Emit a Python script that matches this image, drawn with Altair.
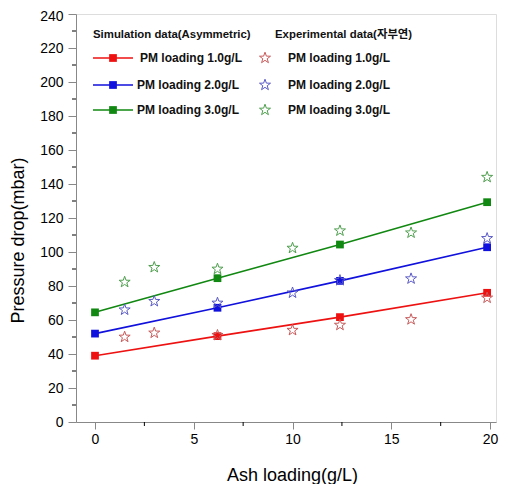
import math
import altair as alt
import pandas as pd

# ---- data ----
sim_x = [0.0, 6.2, 12.4, 19.85]
sim_pm1 = [39.0, 50.5, 61.7, 76.0]
sim_pm2 = [52.0, 67.2, 83.0, 102.8]
sim_pm3 = [64.5, 84.6, 104.4, 129.3]

exp_x = [1.5, 3.0, 6.2, 10.0, 12.4, 16.0, 19.85]
exp_pm1 = [50.0, 52.4, 51.0, 54.0, 57.0, 60.3, 73.0]
exp_pm2 = [66.0, 71.0, 70.0, 76.0, 83.3, 84.3, 108.0]
exp_pm3 = [82.3, 91.0, 90.0, 102.3, 112.5, 111.3, 144.0]

series = ["PM loading 1.0g/L", "PM loading 2.0g/L", "PM loading 3.0g/L"]
x_major = [0, 5, 10, 15, 20]
x_minor = [2.5, 7.5, 12.5, 17.5]
y_major = list(range(0, 241, 20))
y_minor = list(range(10, 240, 20))

line_colors = ["#ee1111", "#1111dd", "#118811"]
star_colors = ["#c85a5a", "#5a5ac8", "#4f9f4f"]

W, H = 420, 408
FONT = "Liberation Sans, Arial, Noto Sans CJK KR, sans-serif"

# star symbol path (unit space)
pts = []
for i in range(10):
    r = 1.0 if i % 2 == 0 else 0.4
    a = -math.pi / 2 + i * math.pi / 5
    pts.append(f"{r*math.cos(a):.3f},{r*math.sin(a):.3f}")
STAR = "M" + "L".join(pts) + "Z"

sim_rows = []
for s, vals in zip(series, [sim_pm1, sim_pm2, sim_pm3]):
    for xv, yv in zip(sim_x, vals):
        sim_rows.append({"x": xv, "y": yv, "s": s})
sim_df = pd.DataFrame(sim_rows)

exp_rows = []
for s, vals in zip(series, [exp_pm1, exp_pm2, exp_pm3]):
    for xv, yv in zip(exp_x, vals):
        exp_rows.append({"x": xv, "y": yv, "s": s})
exp_df = pd.DataFrame(exp_rows)

xscale = alt.Scale(domain=[-0.962, 20.30], nice=False, zero=False)
yscale = alt.Scale(domain=[0, 240], nice=False)

xaxis = alt.Axis(values=x_major, title="Ash loading(g/L)", tickSize=7, labelPadding=3,
                 labelFontSize=14, titleFontSize=18, titleFontWeight="normal",
                 titleY=53, titleX=216, titleBaseline="middle", grid=False, labelOverlap=False)
yaxis = alt.Axis(values=y_major, title="Pressure drop(mbar)", tickSize=8, labelPadding=5,
                 labelFontSize=14, titleFontSize=18, titleFontWeight="normal",
                 titleX=-58, titleY=226, titleBaseline="middle", grid=False, labelOverlap=False,
                 labelOffset={"condition": {"test": "datum.value == 240", "value": 2}, "value": 0})

X = lambda f: alt.X(f, scale=xscale, axis=xaxis)
Y = lambda f: alt.Y(f, scale=yscale, axis=yaxis)

color_scale = alt.Scale(domain=series, range=line_colors)
star_scale = alt.Scale(domain=series, range=star_colors)

lines = alt.Chart(sim_df).mark_line(strokeWidth=1.6).encode(
    x=X("x:Q"), y=Y("y:Q"),
    color=alt.Color("s:N", scale=color_scale, legend=None),
)
squares = alt.Chart(sim_df).mark_point(shape="square", filled=True, size=60, opacity=1).encode(
    x=X("x:Q"), y=Y("y:Q"),
    color=alt.Color("s:N", scale=color_scale, legend=None),
)
stars = alt.Chart(exp_df).mark_point(shape=STAR, filled=False, size=135, strokeWidth=1, opacity=1).encode(
    x=X("x:Q"), y=Y("y:Q"),
    stroke=alt.Stroke("s:N", scale=star_scale, legend=None),
)

xminor = alt.Chart(pd.DataFrame({"x": x_minor})).mark_rule(color="black", strokeWidth=1).encode(
    x=X("x:Q"), y=alt.value(H), y2=alt.value(H + 4))
yminor = alt.Chart(pd.DataFrame({"y": y_minor})).mark_rule(color="black", strokeWidth=1).encode(
    y=Y("y:Q"), x=alt.value(-4), x2=alt.value(0))

# ---- manual legend ----
leg = []
leg.append(alt.Chart(pd.DataFrame({"t": ["Simulation data(Asymmetric)"]})).mark_text(
    align="left", baseline="middle", fontSize=11.4, fontWeight="bold", font=FONT, color="#111").encode(
    text="t:N", x=alt.value(17), y=alt.value(21)))
leg.append(alt.Chart(pd.DataFrame({"t": ["Experimental data(자부연)"]})).mark_text(
    align="left", baseline="middle", fontSize=11.4, fontWeight="bold", font=FONT, color="#111").encode(
    text="t:N", x=alt.value(199), y=alt.value(21)))
row_y = [44, 71, 96]
row_tx = [64, 61, 61]
for i, s in enumerate(series):
    d = pd.DataFrame({"t": [s]})
    leg.append(alt.Chart(d).mark_rule(color=line_colors[i], strokeWidth=1.6).encode(
        x=alt.value(17), x2=alt.value(57), y=alt.value(row_y[i])))
    leg.append(alt.Chart(d).mark_point(shape="square", filled=True, size=60, opacity=1,
                                       color=line_colors[i]).encode(
        x=alt.value(37), y=alt.value(row_y[i])))
    leg.append(alt.Chart(d).mark_text(align="left", baseline="middle", fontSize=12,
                                      fontWeight="bold", font=FONT, color="#111").encode(
        text="t:N", x=alt.value(row_tx[i]), y=alt.value(row_y[i])))
    leg.append(alt.Chart(d).mark_point(shape=STAR, filled=False, size=135, strokeWidth=1, opacity=1,
                                       color=star_colors[i]).encode(
        x=alt.value(189), y=alt.value(row_y[i])))
    leg.append(alt.Chart(d).mark_text(align="left", baseline="middle", fontSize=12,
                                      fontWeight="bold", font=FONT, color="#111").encode(
        text="t:N", x=alt.value(212), y=alt.value(row_y[i])))

chart = alt.layer(lines, squares, stars, xminor, yminor, *leg).properties(
    width=W, height=H,
    autosize=alt.AutoSizeParams(type="none"),
    padding={"left": 68, "top": 6, "right": 4, "bottom": 62},
).configure_view(stroke=None).configure_axis(
    domainColor="black", tickColor="black", labelColor="#222", titleColor="#222",
    labelFont=FONT, titleFont=FONT, domainWidth=1, tickWidth=1,
).configure(background="white")

chart.save("out.html", embed_options={"renderer": "svg", "actions": False})
